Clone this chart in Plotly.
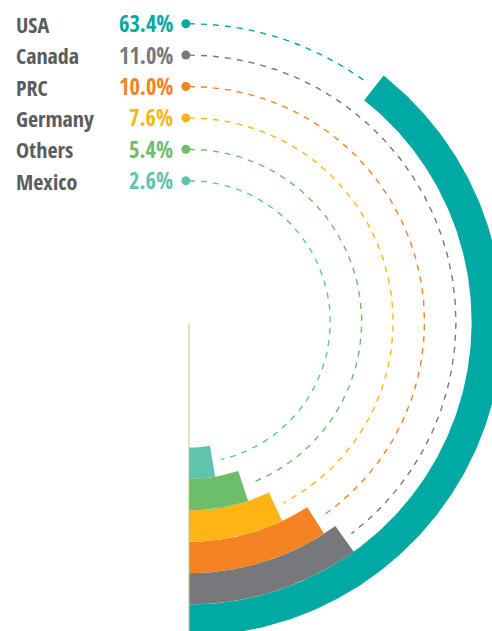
import numpy as np
import plotly.graph_objects as go

# ---------------- data ----------------
countries = ["USA", "Canada", "PRC", "Germany", "Others", "Mexico"]
shares = [63.4, 11.0, 10.0, 7.6, 5.4, 2.6]
share_labels = ["63.4%", "11.0%", "10.0%", "7.6%", "5.4%", "2.6%"]
colors = ["#00A9A4", "#77787B", "#F58220", "#FDB515", "#6DBE6B", "#5FC4AE"]

# ---------------- encoding ----------------
DEG_PER_PCT = 3.1      # angular sweep per percentage point
DEG_OFFSET = 1.55      # small constant added to every sweep
SWEEP_CAP = 141.7      # the USA bar is drawn with a broken (capped) scale
START_ANGLE = -90      # bars start at the bottom and run counter-clockwise
OUTER_RING = 9         # radial index of the outermost ring (USA)
RING_WIDTH = 1.0
GAP = 0.27             # gap between dashed leader and bar end (arc length, ring units)
DOT_SHIFT = 0.1        # dots sit slightly left of the top of each leader

NAME_COLOR = "#5B5C5E"
AXIS_COLOR = "#B5C98E"
FONT = "Open Sans Condensed, Roboto Condensed, DejaVu Sans Condensed, sans-serif"

sweeps = [min(DEG_OFFSET + DEG_PER_PCT * v, SWEEP_CAP) for v in shares]
inner = [OUTER_RING - i for i in range(len(countries))]
mid = [b + RING_WIDTH / 2 for b in inner]


def polar_xy(r, theta_deg):
    t = np.radians(theta_deg)
    return np.asarray(r) * np.cos(t), np.asarray(r) * np.sin(t)


fig = go.Figure()

# bars: annular sectors (radial bars) in ring units
for name, sw, b, c in zip(countries, sweeps, inner, colors):
    th = np.linspace(START_ANGLE, START_ANGLE + sw, 240)
    theta = np.concatenate([th, th[::-1], th[:1]])
    r = np.concatenate([np.full(th.size, b + RING_WIDTH), np.full(th.size, b), [b + RING_WIDTH]])
    x, y = polar_xy(r, theta)
    fig.add_trace(go.Scatter(
        x=x, y=y, mode="lines", fill="toself", fillcolor=c,
        line=dict(width=0, color=c), name=name,
        showlegend=False, hoverinfo="skip"))

# radial axis line (pointing down from the centre)
ax_x, ax_y = polar_xy([0.05, OUTER_RING + RING_WIDTH + 0.5], [START_ANGLE, START_ANGLE])
fig.add_trace(go.Scatter(x=ax_x, y=ax_y, mode="lines",
                         line=dict(color=AXIS_COLOR, width=1),
                         showlegend=False, hoverinfo="skip"))

# dashed leaders from the label (top) clockwise down to the bar end
for name, sw, rm, c in zip(countries, sweeps, mid, colors):
    end = START_ANGLE + sw + np.degrees(GAP / rm)
    th = np.linspace(90, end, 300)
    x, y = polar_xy(np.full(th.size, rm), th)
    fig.add_trace(go.Scatter(
        x=x, y=y, mode="lines",
        line=dict(color=c, width=1.4, dash="6px,6px"),
        showlegend=False, hoverinfo="skip"))

# dots at the label end of each leader
dx, dy = polar_xy(mid, [90 + np.degrees(DOT_SHIFT / rm) for rm in mid])
fig.add_trace(go.Scatter(
    x=dx, y=dy, mode="markers",
    marker=dict(color=colors, size=9, line=dict(width=0)),
    showlegend=False, hoverinfo="skip", cliponaxis=False))

# ---------------- layout: one ring unit = U pixels, centre at (CX, CY) ----------------
W, H = 492, 631
U = 31.4
CX, CY = 189, 322
x_range = [-CX / U, (W - CX) / U]
y_range = [-(H - CY) / U, CY / U]

annotations = []
for name, lab, rm, c in zip(countries, share_labels, mid, colors):
    annotations.append(dict(
        text=f"<b>{name}</b>", x=(13.5 - CX) / U, xref="x", y=rm, yref="y",
        xanchor="left", yanchor="middle", showarrow=False,
        font=dict(family=FONT, size=22, color=NAME_COLOR)))
    annotations.append(dict(
        text=f"<b>{lab}</b>", x=(174.5 - CX) / U, xref="x", y=rm, yref="y",
        xanchor="right", yanchor="middle", showarrow=False,
        font=dict(family=FONT, size=22.5, color=c)))

fig.update_layout(
    width=W, height=H, autosize=False,
    margin=dict(l=0, r=0, t=0, b=0, pad=0),
    paper_bgcolor="white", plot_bgcolor="white",
    showlegend=False,
    xaxis=dict(domain=[0, 1], range=x_range, visible=False, fixedrange=True),
    yaxis=dict(domain=[0, 1], range=y_range, visible=False, fixedrange=True),
    annotations=annotations,
)

fig.write_html("out.html")
